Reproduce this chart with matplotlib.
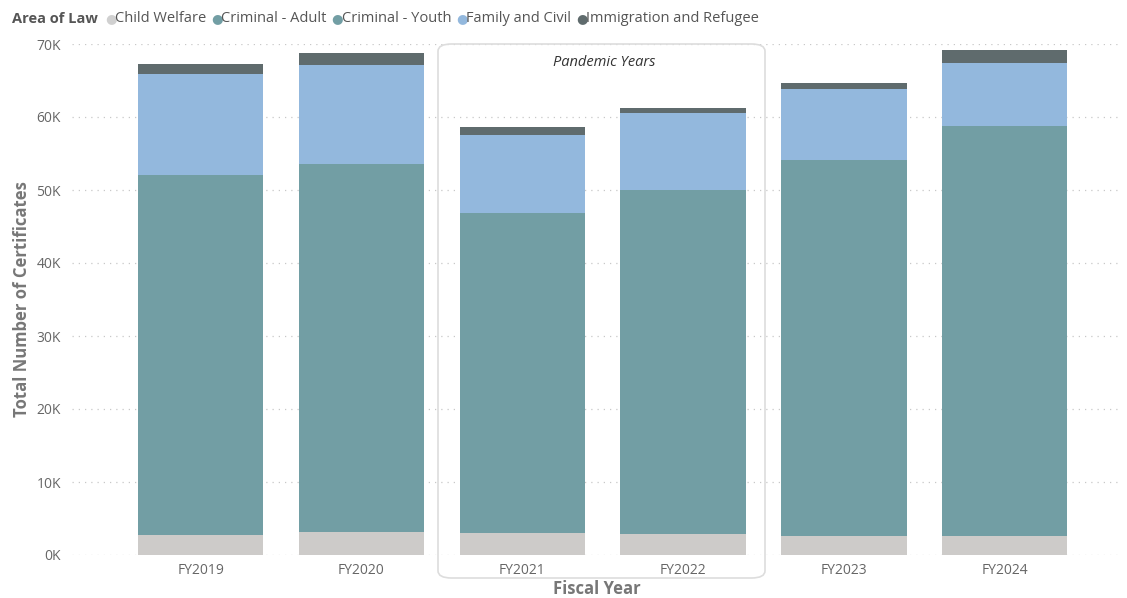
import numpy as np
import matplotlib.pyplot as plt
from matplotlib.patches import FancyBboxPatch
from matplotlib.ticker import FuncFormatter

plt.rcParams['font.family'] = ['Open Sans', 'DejaVu Sans']

# data (thousands of certificates)
years = ['FY2019', 'FY2020', 'FY2021', 'FY2022', 'FY2023', 'FY2024']
child_welfare = [2.7, 3.2, 3.0, 2.9, 2.6, 2.6]
criminal_adult = [48.6, 49.7, 43.1, 46.4, 50.8, 55.4]
criminal_youth = [0.7, 0.7, 0.7, 0.7, 0.7, 0.8]
family_civil = [13.9, 13.5, 10.7, 10.5, 9.7, 8.6]
immigration = [1.4, 1.7, 1.1, 0.7, 0.9, 1.8]

series = [
    ('Child Welfare', child_welfare, '#CDCBC9'),
    ('Criminal - Adult', criminal_adult, '#729EA4'),
    ('Criminal - Youth', criminal_youth, '#729EA4'),
    ('Family and Civil', family_civil, '#93B8DD'),
    ('Immigration and Refugee', immigration, '#5F6B6D'),
]

W, H = 1127, 598
fig = plt.figure(figsize=(W / 100, H / 100), dpi=100)
ax = fig.add_axes([72 / W, 43 / H, (1122 - 72) / W, 511 / H])

x = np.arange(len(years))
bottom = np.zeros(len(years))
for name, vals, col in series:
    vals = np.array(vals) * 1000
    ax.bar(x, vals, bottom=bottom, width=0.78, color=col, label=name, zorder=3)
    bottom += vals

ax.set_ylim(0, 70000)
ax.set_xlim(-0.8, 5.73)
ax.set_yticks(np.arange(0, 70001, 10000))
ax.yaxis.set_major_formatter(FuncFormatter(lambda v, p: f'{int(v / 1000)}K'))
ax.set_xticks(x)
ax.set_xticklabels(years)
ax.tick_params(length=0, colors='#666666', labelsize=10)
ax.tick_params(axis='y', pad=8)
ax.tick_params(axis='x', pad=6)
ax.grid(axis='y', linestyle=(0, (1, 4)), color='#C8C8C8', linewidth=0.9, zorder=0)
for s in ax.spines.values():
    s.set_visible(False)

ax.set_ylabel('Total Number of Certificates', fontsize=12, fontweight='bold', color='#777777', labelpad=4)
ax.set_xlabel('Fiscal Year', fontsize=12, fontweight='bold', color='#777777', labelpad=1)

# pandemic years box
box = FancyBboxPatch((438 / W, 20 / H), (765 - 438) / W, (554 - 20) / H,
                     boxstyle='round,pad=0,rounding_size=0.012', transform=fig.transFigure,
                     facecolor='none', edgecolor='#DDDDDD', linewidth=1.2, zorder=1)
fig.patches.append(box)
fig.text(604 / W, 1 - 62 / H, 'Pandemic Years', ha='center', va='center',
         fontsize=10.5, style='italic', color='#333333')

# legend across the top, laid out left to right
renderer = fig.canvas.get_renderer()
ly = 1 - 19 / H
t = fig.text(12 / W, ly, 'Area of Law', ha='left', va='center',
             fontsize=10.5, fontweight='bold', color='#555555')
cur = t.get_window_extent(renderer).x1 + 7
for name, vals, col in series:
    dot = '#D0D0D0' if name == 'Child Welfare' else col
    fig.text(cur / W, ly, '\u25CF', ha='left', va='center', fontsize=9.5,
             color=dot, family='DejaVu Sans')
    t = fig.text((cur + 10) / W, ly, name, ha='left', va='center',
                 fontsize=10.5, color='#555555')
    cur = t.get_window_extent(renderer).x1 + 5

fig.savefig('out.png', dpi=100)
